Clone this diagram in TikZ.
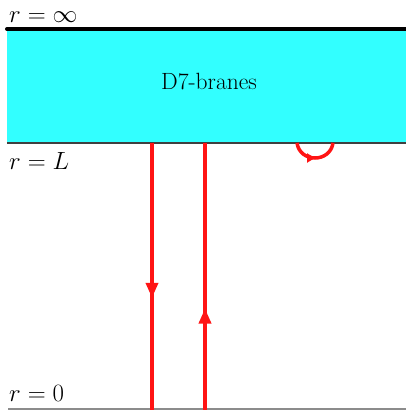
\documentclass[tikz,border=0pt]{standalone}
\usetikzlibrary{arrows.meta,decorations.markings}
\definecolor{branecyan}{RGB}{50,255,255}
\definecolor{lred}{RGB}{255,20,20}
\begin{document}
\begin{tikzpicture}[x=1pt,y=1pt,
  redline/.style={draw=lred,line width=3.5pt},
  lbl/.style={anchor=base west,inner sep=0pt,font=\fontsize{25}{30}\selectfont},
  midarrow/.style={postaction={decorate},decoration={markings,mark=at position #1 with {\arrow{Triangle[width=12pt,length=15pt]}}}}]
\useasboundingbox (0,0) rectangle (406,415);
% brane slab
\fill[branecyan] (7,272) rectangle (406,386);
\draw[line width=4pt,line cap=round] (7,386) -- (406,386);
\draw[line width=1.8pt,draw=black!75] (7,272) -- (406,272);
\draw[line width=1.8pt,draw=black!45] (8,6) -- (406,6);
\node[font=\fontsize{23.5}{28}\selectfont] (d7) at (209,333) {D7-branes};
% labels
\node[lbl] (rinf) at (9,392) {$r=\infty$};
\node[lbl] (rL) at (9,245) {$r=L$};
\node[lbl] (r0) at (9,13) {$r=0$};
% coordinates
\coordinate (a1) at (152,272);
\coordinate (a2) at (152,5);
\coordinate (b1) at (205,5);
\coordinate (b2) at (205,272);
\coordinate (c1) at (297,272);
\coordinate (c2) at (333,272);
% strings
\draw[redline,midarrow=0.58,lred] (a1) -- (a2);
\draw[redline,midarrow=0.38,lred] (b1) -- (b2);
\draw[redline,lred,postaction={decorate},decoration={markings,mark=at position 0.5 with {\arrow{Triangle[width=9pt,length=8pt]}}}] (c1) .. controls (300,252) and (330,252) .. (c2);
\end{tikzpicture}
\end{document}
